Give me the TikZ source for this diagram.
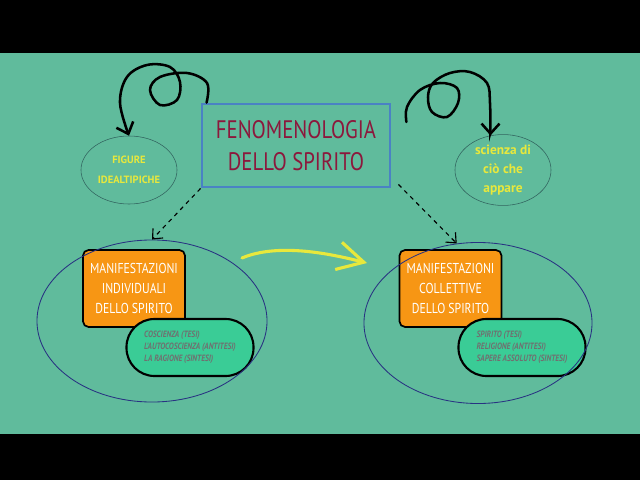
\documentclass[tikz,border=0pt]{standalone}
\usepackage{fontspec}
\newfontfamily\hand[FakeStretch=0.82]{PT Sans}
\newfontfamily\handwide{PT Sans}
\usetikzlibrary{positioning, arrows.meta, shapes.geometric}

\definecolor{boardgreen}{RGB}{96,187,156}
\definecolor{titleblue}{RGB}{74,130,196}
\definecolor{titlered}{RGB}{140,24,60}
\definecolor{ringteal}{RGB}{50,100,95}
\definecolor{ringblue}{RGB}{40,50,130}
\definecolor{idyellow}{RGB}{232,232,60}
\definecolor{manorange}{RGB}{247,150,20}
\definecolor{pillgreen}{RGB}{58,204,150}
\definecolor{pillgrey}{RGB}{112,112,112}

\begin{document}
\begin{tikzpicture}[
    x=0.025cm, y=-0.025cm,
    font=\hand,
    curl/.style={line width=1.8pt, line cap=round, -{Straight Barb[length=2.5mm, width=4.5mm]}},
    link/.style={thick, dashed, -{Straight Barb[length=2mm, width=3.5mm]}},
    idea/.style={ellipse, draw=ringteal, thin, inner sep=0pt, minimum width=2.4cm, minimum height=1.7cm, text=idyellow, align=center},
    ring/.style={ellipse, draw=ringblue, semithick, inner sep=0pt},
    manif/.style={draw=black, line width=1.2pt, fill=manorange, rounded corners=4pt, minimum width=2.55cm, minimum height=1.925cm, text=white, align=center, font=\hand\fontsize{10.2}{14}\selectfont},
    pill/.style={draw=black, line width=1.5pt, fill=pillgreen, rounded corners=0.7cm, minimum width=3.175cm, minimum height=1.425cm, text=pillgrey, align=left, font=\hand\bfseries\itshape\fontsize{6.5}{8.5}\selectfont}
]

% Board with black bars
\fill[black] (0,0) rectangle (640,480);
\fill[boardgreen] (0,53) rectangle (640,434);

% Title
\node[draw=titleblue, line width=2pt, minimum width=4.7cm, minimum height=2.075cm, text=titlered, align=center, font=\hand\fontsize{18}{23}\selectfont] (title) at (296,145.5) {FENOMENOLOGIA\\DELLO SPIRITO};

% Side ideas
\node[idea, font=\handwide\bfseries\fontsize{7.5}{14}\selectfont] (figure) at (129,170) {FIGURE\\IDEALTIPICHE};
\node[idea, font=\handwide\bfseries\fontsize{9.5}{13.5}\selectfont] (science) at (503,170) {scienza di\\ciò che\\appare};

% Manifestations
\node[manif] (indiv) at (134,288.5) {MANIFESTAZIONI\\INDIVIDUALI\\DELLO SPIRITO};
\node[manif] (collect) at (450.5,288.5) {MANIFESTAZIONI\\COLLETTIVE\\DELLO SPIRITO};

\node[pill] (indivlist) at (190,347.5) {COSCIENZA (TESI)\\L'AUTOCOSCIENZA (ANTITESI)\\LA RAGIONE (SINTESI)};
\node[pill] (collectlist) at (522,347.5) {SPIRITO (TESI)\\RELIGIONE (ANTITESI)\\SAPERE ASSOLUTO (SINTESI)};

% Rings around each group
\node[ring, minimum width=5.75cm, minimum height=4.05cm] (leftring) at (152,321) {};
\node[ring, minimum width=5.7cm, minimum height=4.025cm] (rightring) at (478,323) {};

% Curly arrows
\draw[curl] plot[smooth, tension=0.6] coordinates {([xshift=0.15cm]title.north west) (207,83) (187,73) (160,77) (150,90) (160,105) (177,100) (180,82) (170,67) (147,65) (127,77) (120,103) (figure.north)};
\draw[curl] plot[smooth, tension=0.6] coordinates {([shift={(0.375cm,0.5875cm)}]title.east) (407,107) (420,90) (440,83) (457,88) (458,103) (447,117) (432,112) (428,97) (433,83) (450,73) (470,72) (487,83) (490,103) (science.110)};

% Dashed links
\draw[link] (title.south west) -- (leftring.north);
\draw[link] ([shift={(0.175cm,0.1cm)}]title.south east) -- (rightring.105);

% Yellow flow
\coordinate (flowA) at (242,258);
\coordinate (flowB) at (367,263);
\draw[idyellow, line width=2.2pt, line cap=round, -{Straight Barb[length=6.5mm, width=7mm]}] (flowA) .. controls (280,242) and (335,255) .. (flowB);

\end{tikzpicture}
\end{document}
